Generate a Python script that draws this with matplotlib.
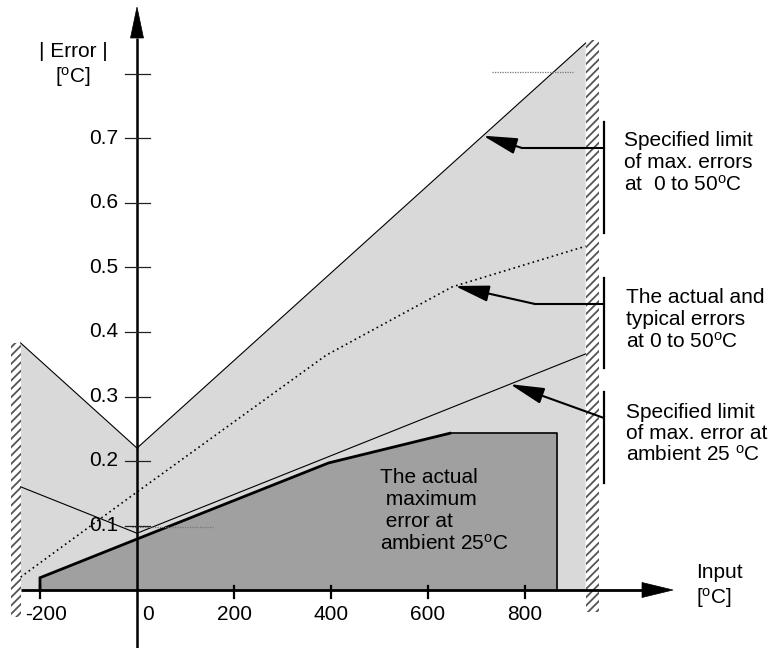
import numpy as np
import matplotlib
matplotlib.use("Agg")
import matplotlib.pyplot as plt
from matplotlib.patches import Polygon, Rectangle

plt.rcParams['font.family'] = ['Liberation Sans', 'DejaVu Sans']
plt.rcParams['mathtext.fontset'] = 'custom'
plt.rcParams['mathtext.rm'] = 'Liberation Sans'
plt.rcParams['mathtext.it'] = 'Liberation Sans'
plt.rcParams['hatch.linewidth'] = 1.3

# ---------------- data ----------------
input_ticks = [-200, 0, 200, 400, 600, 800]
input_labels = ['-200', '0', '200', '400', '600', '800']
error_ticks = [0.1, 0.2, 0.3, 0.4, 0.5, 0.6, 0.7, 0.8]
error_labels = ['0.1', '0.2', '0.3', '0.4', '0.5', '0.6', '0.7', '']

range_lo, range_hi = -240, 925          # input range limits (hatched walls)

spec_0_50_x = [-240, 0, 925]            # specified limit, 0..50 degC
spec_0_50_y = [0.383, 0.220, 0.848]
typical_x = [-240, 0, 390, 650, 925]    # actual/typical errors 0..50 degC
typical_y = [0.020, 0.152, 0.364, 0.470, 0.533]
spec_25_x = [-240, 0, 925]              # specified limit at ambient 25 degC
spec_25_y = [0.160, 0.088, 0.366]
actual_25_x = [-200, -200, 0, 395, 645, 865, 865]   # actual max error at 25 degC
actual_25_y = [0.0, 0.019, 0.079, 0.197, 0.243, 0.243, 0.0]
ref_a_x, ref_a_y = [-10, 157], [0.098, 0.098]
ref_b_x, ref_b_y = [732, 899], [0.803, 0.803]

# ---------------- figure / pixel helpers ----------------
W, H = 782, 648
X_PX0, X_SCALE = 137, 0.485     # pixel of x=0, px per unit
Y_PX0, Y_SCALE = 590, 645.0     # pixel of y=0, px per unit


def P(px, py):
    return (px - X_PX0) / X_SCALE, (Y_PX0 - py) / Y_SCALE


def DX(px):
    return px / X_SCALE


def DY(py):
    return py / Y_SCALE


fig = plt.figure(figsize=(W / 100, H / 100), dpi=100)
ax = fig.add_axes([0, 0, 1, 1])
ax.set_xlim(P(0, 0)[0], P(W, 0)[0])
ax.set_ylim(P(0, H)[1], P(0, 0)[1])
ax.axis('off')

LIGHT = '#d9d9d9'
DARK = '#a0a0a0'
FS = 15

# light grey envelope region
env_x = [range_lo] + spec_0_50_x + [range_hi]
env_y = [0] + spec_0_50_y + [0]
ax.add_patch(Polygon(np.column_stack([env_x, env_y]), closed=True,
                     facecolor=LIGHT, edgecolor='none', zorder=1))
ax.plot(spec_0_50_x, spec_0_50_y, color='black', lw=0.8, zorder=3)

# dark region: actual max error at 25
ax.add_patch(Polygon(np.column_stack([actual_25_x, actual_25_y]), closed=True,
                     facecolor=DARK, edgecolor='none', zorder=2))
ax.plot(actual_25_x[0:5], actual_25_y[0:5], color='black', lw=2.0, zorder=4,
        solid_joinstyle='miter')
ax.plot(actual_25_x[4:7], actual_25_y[4:7], color='black', lw=1.2, zorder=4)

# specified limit at 25
ax.plot(spec_25_x, spec_25_y, color='black', lw=0.8, zorder=3)
# typical
ax.plot(typical_x, typical_y, color='black', lw=1.2, ls=(0, (1, 2)), zorder=3)

# short grey dotted reference lines
ax.plot(ref_a_x, ref_a_y, color='#777777', lw=0.9, ls=(0, (1, 1)), zorder=5)
ax.plot(ref_b_x, ref_b_y, color='#777777', lw=0.9, ls=(0, (1, 1)), zorder=5)

# hatched walls
wl_x0 = range_lo - DX(10)
ax.add_patch(Rectangle((wl_x0, P(0, 617)[1]), DX(10), DY(617 - 343),
                       facecolor='white', edgecolor='#555555', hatch='////',
                       lw=0, zorder=2))
ax.add_patch(Rectangle((range_hi, P(0, 612)[1]), DX(13), DY(612 - 40),
                       facecolor='white', edgecolor='#555555', hatch='////',
                       lw=0, zorder=2))

# axes
x_tip = P(673, 0)[0]
x_base = P(642, 0)[0]
ax.plot([range_lo, x_base], [0, 0], color='black', lw=2.0, zorder=6,
        solid_capstyle='butt')
ax.add_patch(Polygon([[x_tip, 0], [x_base, DY(7.5)], [x_base, -DY(7.5)]],
                     closed=True, facecolor='black', edgecolor='black', lw=0.5, zorder=6))
y_tip = P(0, 7)[1]
y_base = P(0, 38)[1]
ax.plot([0, 0], [P(0, H)[1], y_base], color='black', lw=1.8, zorder=6,
        solid_capstyle='butt')
ax.add_patch(Polygon([[0, y_tip], [-DX(6.5), y_base], [DX(6.5), y_base]],
                     closed=True, facecolor='black', edgecolor='black', lw=0.5, zorder=6))

# y ticks and labels
for v, lab in zip(error_ticks, error_labels):
    ax.plot([-DX(12), DX(13)], [v, v], color='#222222', lw=0.9, zorder=6)
    if lab:
        ax.text(-DX(19), v, lab, ha='right', va='center', fontsize=FS, zorder=7)

# x ticks and labels
for v, lab in zip(input_ticks, input_labels):
    if v != 0:
        ax.plot([v, v], [-DY(8), DY(4)], color='black', lw=1.6, zorder=6)
    off = DX(11) if v == 0 else (DX(6) if v < 0 else 0)
    ax.text(v + off, -DY(25), lab, ha='center', va='center', fontsize=FS, zorder=7)

# axis titles
ax.text(*P(73, 52), '| Error |', ha='center', va='center', fontsize=FS)
ax.text(*P(73, 77), r'[$^{\rm o}$C]', ha='center', va='center', fontsize=FS)
ax.text(*P(696, 573), 'Input', ha='left', va='center', fontsize=FS)
ax.text(*P(696, 598), r'[$^{\rm o}$C]', ha='left', va='center', fontsize=FS)

# dark region label
ax.text(*P(380, 511), 'The actual\n maximum\n error at\n' + r'ambient 25$^{\rm o}$C',
        ha='left', va='center', fontsize=FS, linespacing=1.2, zorder=7)

# annotation brackets
brk_x = P(604, 0)[0]
for top, bot in [(122, 233), (278, 368), (392, 483)]:
    ax.plot([brk_x, brk_x], [P(0, top)[1], P(0, bot)[1]], color='black', lw=1.6, zorder=6)

arrow_kw = dict(arrowstyle='-|>,head_length=2.1,head_width=0.5', lw=1.5,
                color='black', shrinkA=0, shrinkB=0, mutation_scale=10)

# arrow 1 -> spec 0..50 line
t1x = P(483, 0)[0]
t1 = (t1x, np.interp(t1x, spec_0_50_x, spec_0_50_y))
k1 = P(522, 148)
ax.plot([brk_x, k1[0]], [k1[1], k1[1]], color='black', lw=1.5, zorder=6)
ax.annotate('', xy=t1, xytext=k1, arrowprops=arrow_kw, zorder=7)

# arrow 2 -> typical line
t2x = P(455, 0)[0]
t2 = (t2x, np.interp(t2x, typical_x, typical_y))
k2 = P(535, 304)
ax.plot([brk_x, k2[0]], [k2[1], k2[1]], color='black', lw=1.5, zorder=6)
ax.annotate('', xy=t2, xytext=k2, arrowprops=arrow_kw, zorder=7)

# arrow 3 -> spec 25 line
t3x = P(510, 0)[0]
t3 = (t3x, np.interp(t3x, spec_25_x, spec_25_y))
k3 = P(604, 418)
ax.annotate('', xy=t3, xytext=k3, arrowprops=arrow_kw, zorder=7)

# annotation texts
ax.text(*P(624, 163), 'Specified limit\nof max. errors\n' + r'at  0 to 50$^{\rm o}$C',
        ha='left', va='center', fontsize=FS, linespacing=1.2)
ax.text(*P(626, 320), 'The actual and\ntypical errors\n' + r'at 0 to 50$^{\rm o}$C',
        ha='left', va='center', fontsize=FS, linespacing=1.2)
ax.text(*P(626, 434), 'Specified limit\nof max. error at\n' + r'ambient 25 $^{\rm o}$C',
        ha='left', va='center', fontsize=FS, linespacing=1.13)

fig.savefig('out.png', dpi=100)
